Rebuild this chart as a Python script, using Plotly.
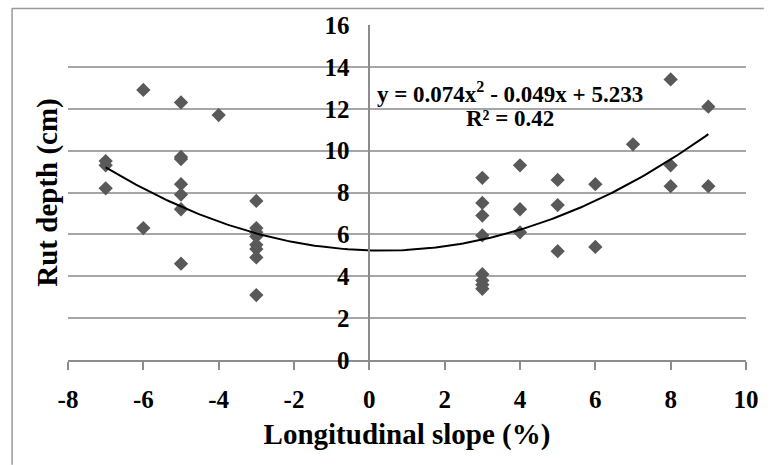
import numpy as np
import plotly.graph_objects as go

# Data
slope = [-7, -7, -7,
         -6, -6,
         -5, -5, -5, -5, -5, -5, -5,
         -4,
         -3, -3, -3, -3, -3, -3, -3, -3,
         3, 3, 3, 3, 3, 3, 3, 3,
         4, 4, 4,
         5, 5, 5,
         6, 6,
         7,
         8, 8, 8,
         9, 9]
rut = [9.5, 9.3, 8.2,
       12.9, 6.3,
       12.3, 9.7, 9.6, 8.4, 7.9, 7.2, 4.6,
       11.7,
       7.6, 6.3, 6.1, 5.9, 5.5, 5.3, 4.9, 3.1,
       8.7, 7.5, 6.9, 5.95, 4.1, 3.8, 3.6, 3.4,
       9.3, 7.2, 6.1,
       8.6, 7.4, 5.2,
       8.4, 5.4,
       10.3,
       13.4, 9.3, 8.3,
       12.1, 8.3]

# Trendline coefficients as printed on the chart
coef_a, coef_b, coef_c = 0.074, -0.049, 5.233
trend_x = np.linspace(-7, 9, 200)
trend_y = coef_a * trend_x**2 + coef_b * trend_x + coef_c

x_ticks = [-8, -6, -4, -2, 0, 2, 4, 6, 8, 10]
y_ticks = [0, 2, 4, 6, 8, 10, 12, 14, 16]

FONT = "Liberation Serif"
GRID = "#a6a6a6"
AXIS = "#8c8c8c"

fig = go.Figure()
fig.add_trace(go.Scatter(x=slope, y=rut, mode="markers",
                         marker=dict(symbol="diamond", size=11, color="#595959"),
                         showlegend=False))
fig.add_trace(go.Scatter(x=trend_x, y=trend_y, mode="lines",
                         line=dict(color="black", width=2), showlegend=False))

W, H = 771, 465
ml, mr, mt, mb = 68, 18, 24, 105
pw, ph = W - ml - mr, H - mt - mb

def px_x(p):
    return (p - ml) / pw

def px_y(p):
    return (mt + ph - p) / ph

fig.update_layout(
    width=W, height=H,
    margin=dict(l=ml, r=mr, t=mt, b=mb),
    paper_bgcolor="white", plot_bgcolor="white",
    font=dict(family=FONT, color="black"),
    xaxis=dict(range=[-8, 10], tickvals=x_ticks, ticktext=[str(v) for v in x_ticks],
               showgrid=False, zeroline=False, showline=True, linecolor=AXIS, linewidth=1.5,
               ticks="outside", ticklen=8, tickcolor=AXIS, tickwidth=1.5,
               tickfont=dict(size=25, family=FONT, weight="bold"),
               ticklabelstandoff=8,
               title=dict(text="Longitudinal slope (%)", standoff=12,
                          font=dict(size=29, family=FONT, weight="bold")),
               domain=[0, 1]),
    yaxis=dict(range=[0, 16], tickvals=y_ticks, ticktext=[str(v) for v in y_ticks],
               anchor="free", position=8 / 18,
               showgrid=True, gridcolor=GRID, gridwidth=1.5,
               zeroline=False, showline=True, linecolor=AXIS, linewidth=1.5,
               ticks="", ticklabelstandoff=14,
               tickfont=dict(size=25, family=FONT, weight="bold")),
    annotations=[
        dict(text="y = 0.074x<sup>2</sup> - 0.049x + 5.233", xref="paper", yref="paper",
             x=px_x(515), y=px_y(92), xanchor="center", yanchor="middle", showarrow=False,
             font=dict(size=23, family=FONT, weight="bold")),
        dict(text="R² = 0.42", xref="paper", yref="paper",
             x=px_x(515), y=px_y(118), xanchor="center", yanchor="middle", showarrow=False,
             font=dict(size=23, family=FONT, weight="bold")),
        dict(text="Rut depth (cm)", xref="paper", yref="paper",
             x=px_x(47), y=px_y(192), xanchor="center", yanchor="middle",
             textangle=-90, showarrow=False,
             font=dict(size=29, family=FONT, weight="bold")),
    ],
    shapes=[
        dict(type="line", xref="paper", yref="paper",
             x0=px_x(11), x1=px_x(W), y0=px_y(7.5), y1=px_y(7.5),
             line=dict(color="#999999", width=1.5)),
        dict(type="line", xref="paper", yref="paper",
             x0=px_x(11.5), x1=px_x(11.5), y0=px_y(7.5), y1=px_y(H),
             line=dict(color="#999999", width=1.5)),
    ],
)

fig.write_html("out.html")
